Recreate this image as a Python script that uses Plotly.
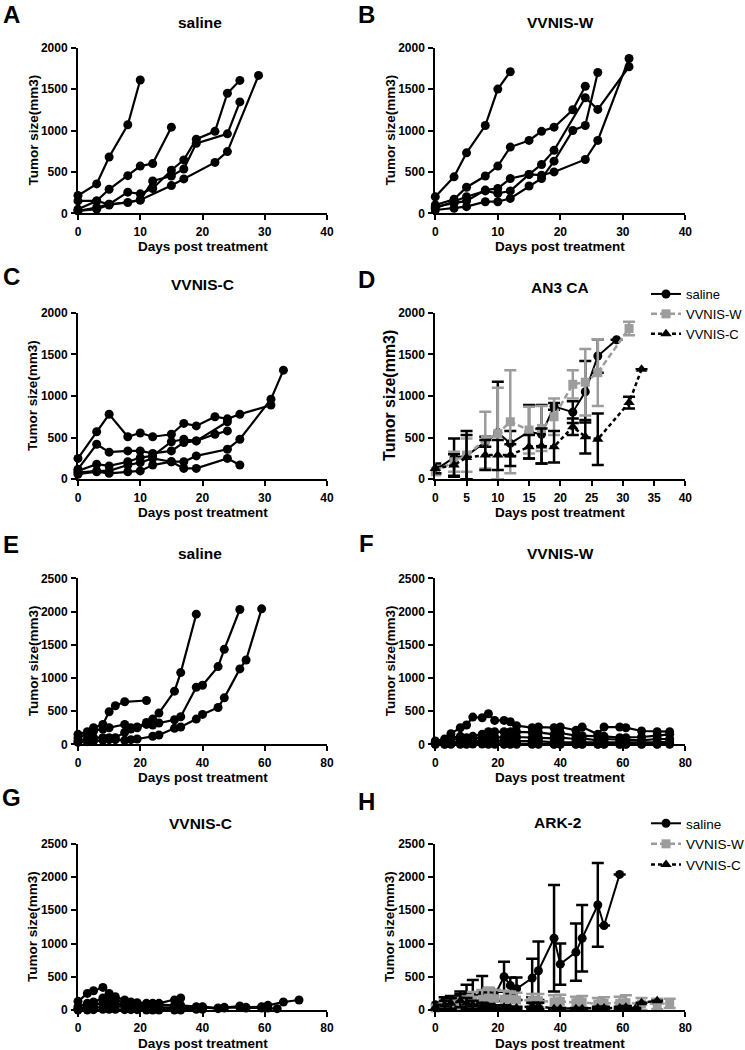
import plotly.graph_objects as go
import numpy as np

# ---------------- DATA ----------------
# Panel A: AN3 CA, saline (individual mice)
A_days = [[0, 3, 5, 8, 10],
          [0, 3, 5, 8, 10, 12, 15],
          [0, 3, 5, 8, 10, 12, 15, 17, 19, 22, 24, 26],
          [0, 3, 5, 8, 10, 12, 15, 17, 19, 24, 26],
          [0, 3, 5, 10, 15, 17, 22, 24, 29]]
A_vol = [[215, 355, 680, 1070, 1610],
         [150, 150, 290, 455, 570, 600, 1040],
         [50, 150, 110, 255, 235, 300, 520, 645, 895, 990, 1450, 1605],
         [30, 70, 110, 130, 160, 390, 450, 535, 845, 960, 1345],
         [30, 50, 100, 160, 335, 415, 615, 745, 1665]]

# Panel B: AN3 CA, VVNIS-W
B_days = [[0, 3, 5, 8, 10, 12],
          [0, 3, 5, 8, 10, 12, 15, 17, 19, 22, 24],
          [0, 3, 5, 8, 10, 12, 15, 17, 19, 24, 26, 31],
          [0, 3, 5, 8, 10, 12, 15, 17, 19, 22, 24, 26],
          [0, 3, 5, 8, 10, 12, 15, 17, 19, 24, 26, 31]]
B_vol = [[200, 440, 730, 1060, 1500, 1710],
         [100, 170, 315, 450, 570, 800, 880, 990, 1040, 1250, 1535],
         [60, 140, 200, 270, 240, 270, 470, 590, 760, 1395, 1255, 1770],
         [40, 60, 80, 140, 140, 180, 330, 420, 630, 1000, 1060, 1700],
         [80, 120, 150, 280, 300, 420, 470, 460, 500, 650, 880, 1870]]

# Panel C: AN3 CA, VVNIS-C
C_days = [[0, 3, 5, 8, 10, 12, 15, 17, 19, 22, 24, 26, 31],
          [0, 3, 5, 8, 10, 12, 15, 17, 19, 24],
          [0, 3, 5, 8, 10, 12, 15, 17, 19, 22, 24],
          [0, 3, 5, 8, 10, 12, 15, 17, 19, 24, 26, 31, 33],
          [0, 3, 5, 8, 10, 12, 15, 17, 19, 24, 26]]
C_vol = [[250, 570, 780, 510, 555, 510, 540, 670, 640, 750, 725, 780, 890],
         [120, 420, 325, 340, 340, 310, 340, 440, 460, 690],
         [100, 180, 160, 210, 260, 280, 450, 480, 460, 540, 580],
         [80, 100, 100, 170, 200, 250, 210, 210, 280, 360, 480, 960, 1310],
         [60, 90, 70, 90, 100, 170, 210, 130, 130, 250, 170]]

# Panel D: AN3 CA group means +/- SD
D_sal_days = [0, 3, 5, 8, 10, 12, 15, 17, 19, 22, 24, 26, 29]
D_sal_mean = [110, 260, 280, 450, 560, 430, 570, 540, 875, 805, 1050, 1480, 1675]
D_sal_sd = [40, 230, 300, 60, 610, 150, 320, 350, 40, 130, 370, 200, 0]
D_w_days = [0, 3, 5, 8, 10, 12, 15, 17, 19, 22, 24, 26, 31]
D_w_mean = [90, 210, 290, 470, 550, 690, 590, 610, 750, 1140, 1165, 1280, 1810]
D_w_sd = [40, 120, 200, 340, 550, 620, 280, 270, 220, 170, 400, 400, 80]
D_c_days = [0, 3, 5, 8, 10, 12, 15, 17, 19, 22, 24, 26, 31, 33]
D_c_mean = [130, 170, 260, 290, 290, 290, 390, 400, 390, 630, 510, 480, 920, 1320]
D_c_sd = [60, 130, 270, 180, 180, 130, 140, 210, 190, 100, 200, 310, 70, 0]

# Panel E: ARK-2, saline
E_days = [[0, 3, 5, 8, 10, 12, 15, 22],
          [0, 3, 5, 8, 10, 15, 17, 19, 22, 24, 26, 31, 33, 38],
          [0, 3, 5, 8, 10, 12, 15, 17, 19, 22, 24, 26, 31, 33, 38, 40, 45, 47, 52],
          [0, 3, 5, 8, 10, 12, 15, 17, 19, 24, 26, 31, 33, 38, 40, 45, 47, 52, 54, 59]]
E_vol = [[150, 190, 250, 300, 490, 580, 640, 660],
         [100, 150, 200, 230, 250, 300, 250, 260, 330, 380, 470, 800, 1080, 1960],
         [50, 80, 100, 100, 100, 100, 180, 230, 250, 300, 290, 320, 370, 415, 860, 890, 1170, 1430, 2030],
         [30, 40, 50, 60, 70, 70, 60, 70, 80, 120, 140, 240, 260, 380, 450, 555, 700, 1135, 1270, 2040]]

# Panel F: ARK-2, VVNIS-W
F_days = [0, 3, 5, 8, 10, 12, 15, 17, 19, 22, 24, 26, 31, 33, 38, 40, 45, 47, 52, 54, 59, 61, 66, 71, 75]
F_vol = [[50, 80, 160, 250, 290, 410, 400, 460, 360, 360, 340, 280, 250, 260, 250, 260, 210, 260, 150, 260, 260, 250, 200, 190, 190],
         [30, 60, 100, 120, 100, 120, 150, 190, 190, 190, 190, 190, 180, 180, 150, 170, 130, 130, 120, 120, 100, 100, 110, 130, 150],
         [20, 40, 70, 80, 90, 100, 100, 130, 110, 100, 120, 110, 100, 100, 90, 100, 80, 90, 60, 80, 70, 60, 60, 80, 80],
         [10, 20, 30, 40, 40, 50, 60, 50, 60, 50, 50, 40, 40, 50, 30, 30, 30, 30, 20, 30, 20, 20, 20, 30, 40],
         [5, 5, 10, 10, 20, 20, 30, 20, 20, 10, 10, 10, 10, 10, 5, 5, 5, 5, 5, 5, 5, 5, 5, 5, 10],
         [0, 0, 0, 0, 0, 5, 5, 0, 0, 0, 0, 0, 0, 0, 0, 0, 0, 0, 0, 0, 0, 0, 0, 0, 0]]

# Panel G: ARK-2, VVNIS-C
G_days = [[0, 3, 5, 8, 10, 12, 15, 17, 19, 22, 24, 26, 31, 33],
          [0, 3, 5, 8, 10, 12, 15, 17, 19, 22, 24, 26, 31, 33, 38, 40, 45, 47, 52, 54, 59, 61, 66, 71],
          [0, 3, 5, 8, 10, 12, 15, 17, 19, 22, 24, 26, 31, 33, 38, 40, 45, 47, 52, 54, 59, 61, 64],
          [0, 3, 5, 8, 10, 12, 15, 17, 19, 22, 24, 26, 31, 33, 38, 40],
          [0, 3, 5, 8, 10, 12, 15, 17, 19, 22, 24, 26, 31, 33]]
G_vol = [[130, 250, 290, 340, 250, 200, 150, 120, 110, 100, 100, 100, 150, 180],
         [50, 100, 120, 180, 180, 150, 110, 90, 90, 80, 80, 80, 70, 70, 50, 50, 30, 40, 60, 40, 50, 70, 120, 150],
         [20, 50, 60, 120, 130, 100, 80, 60, 60, 50, 50, 40, 40, 40, 30, 40, 20, 30, 40, 30, 30, 30, 20],
         [10, 20, 30, 50, 60, 60, 50, 40, 30, 20, 20, 20, 20, 20, 10, 10],
         [0, 0, 5, 10, 10, 10, 5, 5, 5, 0, 0, 0, 0, 0]]

# Panel H: ARK-2 group means +/- SD
H_sal_days = [0, 3, 5, 8, 10, 12, 15, 17, 19, 22, 24, 26, 31, 33, 38, 40, 45, 47, 52, 54, 59]
H_sal_mean = [80, 140, 150, 180, 220, 200, 250, 230, 220, 500, 370, 320, 480, 590, 1080, 690, 870, 1080, 1580, 1270, 2040]
H_sal_sd = [20, 50, 60, 100, 160, 250, 260, 100, 80, 225, 120, 170, 290, 440, 800, 310, 430, 500, 630, 0, 0]
H_w_days = [0, 3, 5, 8, 10, 12, 15, 17, 19, 22, 24, 26, 31, 33, 38, 40, 45, 47, 52, 54, 59, 61, 66, 71, 75]
H_w_mean = [30, 60, 80, 100, 120, 150, 160, 180, 170, 160, 160, 150, 140, 140, 120, 130, 110, 120, 90, 100, 100, 110, 90, 90, 100]
H_w_sd = [20, 40, 60, 80, 100, 120, 140, 150, 130, 130, 120, 110, 100, 100, 100, 100, 90, 90, 90, 90, 100, 110, 90, 80, 70]
H_c_days = [0, 3, 5, 8, 10, 12, 15, 17, 19, 22, 24, 26, 31, 33, 38, 40, 45, 47, 52, 54, 59, 61, 64, 66, 71]
H_c_mean = [40, 80, 100, 140, 100, 80, 60, 50, 40, 40, 30, 30, 60, 60, 20, 20, 20, 20, 30, 30, 30, 40, 20, 110, 140]
H_c_sd = [40, 60, 80, 100, 80, 60, 50, 40, 30, 30, 20, 20, 50, 50, 10, 10, 10, 10, 20, 20, 20, 20, 10, 0, 0]

panel_letters = ["A", "B", "C", "D", "E", "F", "G", "H"]
panel_titles = ["saline", "VVNIS-W", "VVNIS-C", "AN3 CA", "saline", "VVNIS-W", "VVNIS-C", "ARK-2"]
group_names = ["saline", "VVNIS-W", "VVNIS-C"]
x_title = "Days post treatment"
y_title = "Tumor size(mm3)"

# ---------------- LAYOUT ----------------
W, H = 745, 1050
FONT = "Liberation Sans"
GRAY = "#9c9c9c"


def fx(px):
    return px / W


def fy(py):
    return 1 - py / H


col_x = [(78, 327), (435.3, 685.3)]
row_y = [(47.7, 213.3), (312.7, 479.2), (578.3, 744.3), (843.8, 1010)]

fig = go.Figure()


def axis_ids(i):
    return ("x" if i == 0 else f"x{i+1}", "y" if i == 0 else f"y{i+1}")


def add_individual(i, days_list, vol_list):
    xa, ya = axis_ids(i)
    for d, v in zip(days_list, vol_list):
        fig.add_trace(go.Scatter(x=d, y=v, mode="lines+markers", xaxis=xa, yaxis=ya,
                                 line=dict(color="black", width=2.2),
                                 marker=dict(color="black", size=9, symbol="circle"),
                                 cliponaxis=False, showlegend=False, hoverinfo="skip"))


def add_group(i, days, mean, sd, name, color, dash, symbol, msize, legend, lw):
    xa, ya = axis_ids(i)
    mean_a = np.array(mean, dtype=float)
    sd_a = np.array(sd, dtype=float)
    minus = np.minimum(sd_a, mean_a)
    fig.add_trace(go.Scatter(x=days, y=mean, mode="lines+markers", name=name,
                             xaxis=xa, yaxis=ya, legend=legend,
                             line=dict(color=color, width=lw, dash=dash),
                             marker=dict(color=color, size=msize, symbol=symbol),
                             error_y=dict(type="data", array=list(sd_a), arrayminus=list(minus),
                                          color=color, thickness=2.5, width=6, visible=True),
                             cliponaxis=False, hoverinfo="skip"))


add_individual(0, A_days, A_vol)
add_individual(1, B_days, B_vol)
add_individual(2, C_days, C_vol)
add_group(3, D_sal_days, D_sal_mean, D_sal_sd, group_names[0], "black", "solid", "circle", 9, "legend", 2)
add_group(3, D_w_days, D_w_mean, D_w_sd, group_names[1], GRAY, "6px,3px", "square", 9, "legend", 2.5)
add_group(3, D_c_days, D_c_mean, D_c_sd, group_names[2], "black", "4px,3px", "triangle-up", 10, "legend", 2.5)
add_individual(4, E_days, E_vol)
add_individual(5, [F_days] * len(F_vol), F_vol)
add_individual(6, G_days, G_vol)
add_group(7, H_sal_days, H_sal_mean, H_sal_sd, group_names[0], "black", "solid", "circle", 9, "legend2", 2)
add_group(7, H_w_days, H_w_mean, H_w_sd, group_names[1], GRAY, "6px,3px", "square", 9, "legend2", 2.5)
add_group(7, H_c_days, H_c_mean, H_c_sd, group_names[2], "black", "4px,3px", "triangle-up", 10, "legend2", 2.5)

layout = dict(template="none", width=W, height=H, autosize=False,
              margin=dict(l=0, r=0, t=0, b=0, pad=0, autoexpand=False),
              paper_bgcolor="white", plot_bgcolor="white",
              font=dict(family=FONT, color="black"))

annotations = []
for i in range(8):
    r, c = divmod(i, 2)
    x0, x1 = col_x[c]
    y0, y1 = row_y[r]
    xmax = 40 if r < 2 else 80
    ymax = 2000 if r < 2 else 2500
    dt = 5 if i == 3 else (10 if r < 2 else 20)
    xk = "xaxis" if i == 0 else f"xaxis{i+1}"
    yk = "yaxis" if i == 0 else f"yaxis{i+1}"
    xa, ya = axis_ids(i)
    common = dict(showline=True, linecolor="black", linewidth=2, ticks="outside",
                  ticklen=5, tickwidth=2, tickcolor="black", showgrid=False, zeroline=False,
                  tickfont=dict(family=FONT, size=12, weight="bold", color="black"),
                  fixedrange=True, automargin=False)
    layout[xk] = dict(domain=[fx(x0), fx(x1)], range=[0, xmax], dtick=dt, anchor=ya,
                      ticklabelstandoff=1, **common)
    layout[yk] = dict(domain=[fy(y1), fy(y0)], range=[0, ymax], dtick=500, anchor=xa,
                      ticklabelstandoff=1, **common)
    cx = (x0 + x1) / 2
    # panel title
    title_pos = [(200, 23), (560, 23), (202, 285), (560, 287),
                 (200, 553), (560, 553), (201, 823), (557, 822)][i]
    annotations.append(dict(text=panel_titles[i], x=fx(title_pos[0]), y=fy(title_pos[1]),
                            xref="paper", yref="paper", showarrow=False,
                            xanchor="center", yanchor="middle",
                            font=dict(family=FONT, size=15.5, weight="bold", color="black")))
    # letter
    let_pos = [(11, 15), (366, 15), (11, 276), (366, 280),
               (11, 544), (366, 543), (11, 797), (366, 801)][i]
    annotations.append(dict(text=panel_letters[i], x=fx(let_pos[0]), y=fy(let_pos[1]),
                            xref="paper", yref="paper", showarrow=False,
                            xanchor="center", yanchor="middle",
                            font=dict(family=FONT, size=24, weight="bold", color="black")))
    # x title
    annotations.append(dict(text=x_title, x=fx(cx), y=fy(y1 + 33),
                            xref="paper", yref="paper", showarrow=False,
                            xanchor="center", yanchor="middle", borderpad=0,
                            font=dict(family=FONT, size=13.5, weight="bold", color="black")))
    # y title
    ytx = 33 if c == 0 else 390
    ysz = 16 if i == 3 else 13.5
    annotations.append(dict(text=y_title, x=fx(ytx), y=fy((y0 + y1) / 2),
                            xref="paper", yref="paper", showarrow=False, textangle=-90,
                            xanchor="center", yanchor="middle",
                            font=dict(family=FONT, size=ysz, weight="bold", color="black")))

layout["annotations"] = annotations
leg_common = dict(xanchor="left", yanchor="top", bgcolor="rgba(0,0,0,0)",
                  xref="container", yref="container", borderwidth=0,
                  itemwidth=30, tracegroupgap=0)
layout["legend"] = dict(x=fx(646), y=fy(279), font=dict(family=FONT, size=13, color="black"),
                        **leg_common)
layout["legend2"] = dict(x=fx(646), y=fy(808), font=dict(family=FONT, size=13.5, color="black"),
                         **leg_common)
fig.update_layout(**layout)

fig.write_html("out.html", config={"displayModeBar": False},
               post_script="document.body.style.margin='0';document.body.style.overflow='hidden';")
